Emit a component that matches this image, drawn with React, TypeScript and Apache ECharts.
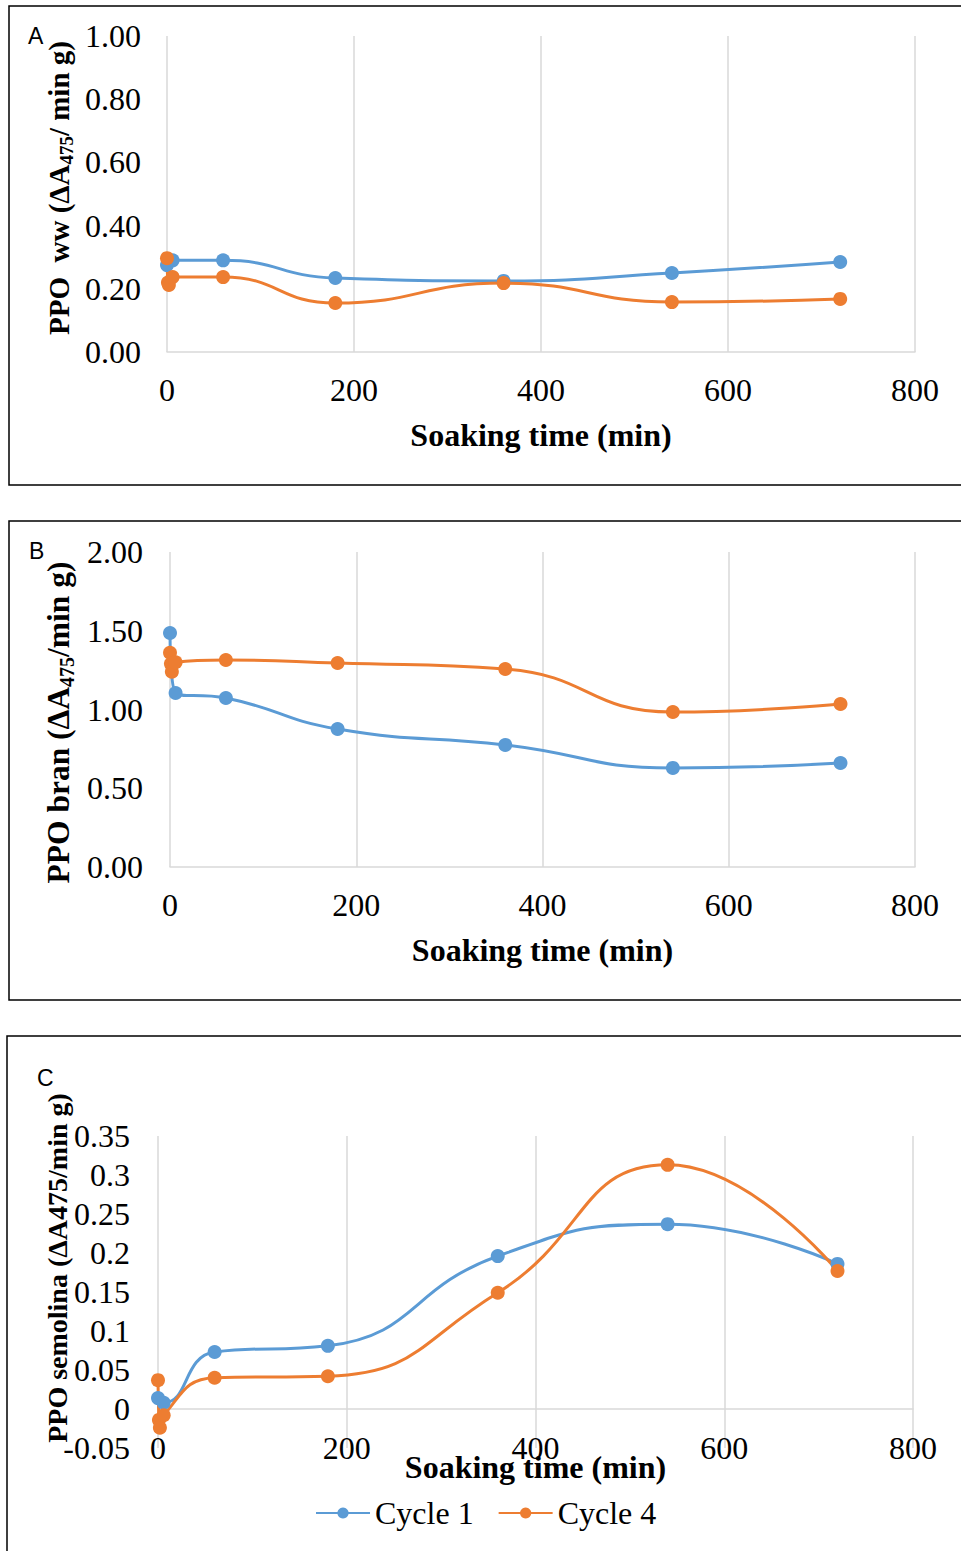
import React, { useEffect, useRef } from "react";
import * as echarts from "echarts";

// ---- data ----
const xTicks = [0, 200, 400, 600, 800];

// Panel A: PPO whole wheat
const timeA1 = [0, 6, 60, 180, 360, 540, 720];
const wwCycle1 = [0.275, 0.29, 0.29, 0.234, 0.225, 0.25, 0.285];
const timeA4 = [0, 1, 2, 6, 60, 180, 360, 540, 720];
const wwCycle4 = [0.297, 0.22, 0.212, 0.237, 0.237, 0.155, 0.218, 0.158, 0.168];

// Panel B: PPO bran
const timeB1 = [0, 6, 60, 180, 360, 540, 720];
const branCycle1 = [1.486, 1.105, 1.073, 0.876, 0.775, 0.629, 0.66];
const timeB4 = [0, 1, 2, 6, 60, 180, 360, 540, 720];
const branCycle4 = [1.36, 1.29, 1.24, 1.3, 1.314, 1.295, 1.257, 0.984, 1.035];

// Panel C: PPO semolina
const timeC1 = [0, 6, 60, 180, 360, 540, 720];
const semCycle1 = [0.014, 0.008, 0.073, 0.081, 0.196, 0.237, 0.186];
const timeC4 = [0, 1, 2, 6, 60, 180, 360, 540, 720];
const semCycle4 = [0.037, -0.014, -0.024, -0.008, 0.04, 0.042, 0.149, 0.313, 0.177];

const seriesNames = ["Cycle 1", "Cycle 4"];
const colors = ["#5B9BD5", "#ED7D31"];

const FONT = '"Times New Roman", "Liberation Serif", serif';
const SANS = '"Liberation Sans", Arial, sans-serif';

const pairs = (xs: number[], ys: number[]) => xs.map((x, i) => [x, ys[i]]);

export default function App() {
  const ref = useRef<HTMLDivElement>(null);
  useEffect(() => {
    if (!ref.current) return;
    const chart = echarts.init(ref.current, null, { renderer: "svg" });

    const grids = [
      { left: 167, top: 36, width: 748, height: 316 },
      { left: 170, top: 552, width: 745, height: 315 },
      { left: 158, top: 1136, width: 755, height: 312 },
    ];
    const xNameGaps = [67, 67, 3];
    const xLabelMargins = [22, 22, -16];

    const xAxis = grids.map((_, i) => ({
      type: "value",
      gridIndex: i,
      min: xTicks[0],
      max: xTicks[xTicks.length - 1],
      interval: xTicks[1] - xTicks[0],
      axisLine: { show: true, lineStyle: { color: "#d9d9d9", width: 1.5 } },
      axisTick: { show: false },
      splitLine: { show: true, lineStyle: { color: "#d9d9d9", width: 1.5 } },
      axisLabel: { fontFamily: FONT, fontSize: 32, color: "#000", margin: xLabelMargins[i] },
      name: "Soaking time (min)",
      nameLocation: "middle",
      nameGap: xNameGaps[i],
      nameMoveOverlap: false,
      nameTextStyle: { fontFamily: FONT, fontSize: 32, fontWeight: "bold", color: "#000" },
    }));

    const nameStyle = (size: number, extra: any = {}) => ({
      fontFamily: FONT,
      fontSize: size,
      fontWeight: "bold",
      color: "#000",
      lineHeight: size + 6,
      rich: {
        s: {
          fontFamily: FONT,
          fontSize: Math.round(size * 0.65),
          fontWeight: "bold",
          color: "#000",
          verticalAlign: "bottom",
          lineHeight: Math.round(size * 0.65),
        },
      },
      ...extra,
    });

    const yBase = {
      type: "value",
      axisLine: { show: false },
      axisTick: { show: false },
      splitLine: { show: false },
      nameLocation: "middle",
      nameRotate: 90,
      nameMoveOverlap: false,
    };

    const yAxis = [
      {
        ...yBase,
        gridIndex: 0,
        min: 0,
        max: 1,
        interval: 0.2,
        axisLabel: { fontFamily: FONT, fontSize: 32, color: "#000", margin: 26, formatter: (v: number) => v.toFixed(2) },
        name: "PPO  ww (ΔA{s|475}/ min g)",
        nameGap: 91,
        nameTextStyle: nameStyle(29, { padding: [0, 0, 0, 12] }),
      },
      {
        ...yBase,
        gridIndex: 1,
        min: 0,
        max: 2,
        interval: 0.5,
        axisLabel: { fontFamily: FONT, fontSize: 32, color: "#000", margin: 27, formatter: (v: number) => v.toFixed(2) },
        name: "PPO bran (ΔA{s|475}/min g)",
        nameGap: 93,
        nameTextStyle: nameStyle(31.5, { padding: [0, 26, 0, 0] }),
      },
      {
        ...yBase,
        gridIndex: 2,
        min: -0.05,
        max: 0.35,
        interval: 0.05,
        axisLabel: {
          fontFamily: FONT,
          fontSize: 32,
          color: "#000",
          margin: 28,
          formatter: (v: number) => String(Math.round(v * 100) / 100),
        },
        name: "PPO semolina (ΔA475/min g)",
        nameGap: 84,
        nameTextStyle: nameStyle(28, { padding: [0, 0, 0, 48] }),
      },
    ];

    const mk = (name: string, color: string, gi: number, data: number[][]) => ({
      type: "line",
      name,
      xAxisIndex: gi,
      yAxisIndex: gi,
      data,
      smooth: 0.5,
      symbol: "circle",
      symbolSize: 14,
      showSymbol: true,
      lineStyle: { color, width: 3 },
      itemStyle: { color },
    });

    const series = [
      mk(seriesNames[0], colors[0], 0, pairs(timeA1, wwCycle1)),
      mk(seriesNames[1], colors[1], 0, pairs(timeA4, wwCycle4)),
      mk(seriesNames[0], colors[0], 1, pairs(timeB1, branCycle1)),
      mk(seriesNames[1], colors[1], 1, pairs(timeB4, branCycle4)),
      mk(seriesNames[0], colors[0], 2, pairs(timeC1, semCycle1)),
      mk(seriesNames[1], colors[1], 2, pairs(timeC4, semCycle4)),
    ];

    const border = (x: number, y: number, w: number, h: number) => ({
      type: "rect",
      shape: { x, y, width: w, height: h },
      style: { fill: "none", stroke: "#000", lineWidth: 1.5 },
      silent: true,
    });
    const letter = (t: string, x: number, y: number) => ({
      type: "text",
      x,
      y,
      style: { text: t, font: `23px ${SANS}`, fill: "#000" },
      silent: true,
    });

    chart.setOption({
      animation: false,
      backgroundColor: "#fff",
      grid: grids,
      xAxis,
      yAxis,
      series,
      legend: {
        data: seriesNames,
        left: 310,
        top: 1492,
        itemWidth: 54,
        itemHeight: 14,
        itemGap: 24,
        textStyle: { fontFamily: FONT, fontSize: 32, color: "#000" },
      },
      graphic: [
        border(9, 6, 1000, 479),
        border(9, 521, 1000, 479),
        border(7, 1036, 1000, 1000),
        letter("A", 28, 24),
        letter("B", 29, 539),
        letter("C", 37, 1066),
      ],
    });
    return () => chart.dispose();
  }, []);

  return (
    <div
      ref={ref}
      style={{ position: "absolute", left: 0, top: 0, width: 961, height: 1551, background: "#fff" }}
    />
  );
}
